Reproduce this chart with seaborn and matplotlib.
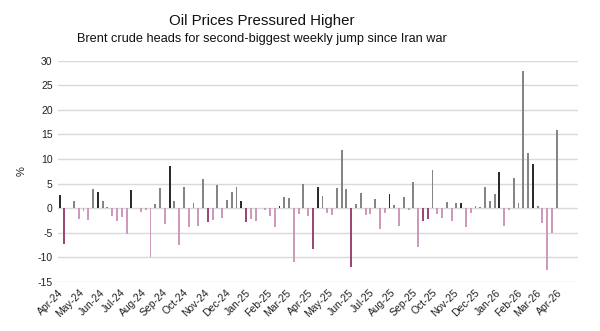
import matplotlib
matplotlib.use("Agg")
import matplotlib.pyplot as plt
import seaborn as sns
import pandas as pd
import numpy as np

# Weekly Brent crude % change, week ending dates
start_date = "2024-04-03"
n_weeks = 105
weekly_change = [
    2.6, -7.3, 0.0, 1.4, -2.1, -0.6, -2.4, 3.9, 3.3, 1.4,
    0.3, -1.6, -2.7, -1.7, -5.2, 3.7, 0.0, -0.8, -0.3, -9.9,
    0.9, 4.1, -3.3, 8.6, 1.4, -7.5, 4.3, -3.8, 1.1, -3.7,
    5.9, -2.9, -2.3, 4.8, -2.0, 1.7, 3.3, 4.4, 1.4, -2.8,
    -2.1, -2.7, 0.0, -0.3, -1.6, -3.8, 0.5, 2.3, 2.0, -10.9,
    -1.2, 5.0, -1.5, -8.2, 4.4, 2.4, -1.0, -1.3, 4.1, 11.8,
    3.9, -11.9, 0.8, 3.1, -1.4, -1.2, 1.8, -4.3, -1.0, 2.9,
    0.6, -3.7, 2.3, -0.3, 5.3, -7.8, -2.7, -2.2, 7.7, -1.2,
    -2.0, 1.2, -2.7, 1.1, 1.1, -3.9, -0.9, 0.5, 0.3, 4.4,
    1.4, 2.8, 7.3, -3.6, -0.3, 6.1, 1.1, 27.9, 11.3, 8.9,
    0.4, -3.1, -12.6, -5.0, 15.9,
]
# weeks drawn in the darker shade
dark_weeks = [0, 1, 8, 15, 23, 31, 38, 39, 46, 53, 54, 61, 69, 76, 77, 84, 92, 99]

title = "Oil Prices Pressured Higher"
subtitle = "Brent crude heads for second-biggest weekly jump since Iran war"
y_label = "%"
y_ticks = [-15, -10, -5, 0, 5, 10, 15, 20, 25, 30]

dates = pd.date_range(start_date, periods=n_weeks, freq="7D")
df = pd.DataFrame({"date": dates, "value": weekly_change})
df["pos"] = np.arange(len(df))
df["dark"] = df["pos"].isin(dark_weeks)
df["group"] = np.where(df["value"] >= 0,
                       np.where(df["dark"], "up_dark", "up"),
                       np.where(df["dark"], "down_dark", "down"))
palette = {"up": "#858585", "up_dark": "#2b2b2b",
           "down": "#d690bf", "down_dark": "#a83a78"}

sns.set_theme(style="white")
plt.rcParams["font.family"] = ["Liberation Sans", "DejaVu Sans"]

fig = plt.figure(figsize=(6.0, 3.31), dpi=100)
ax = fig.add_axes([0.097, 0.148, 0.866, 0.669])

sns.barplot(data=df, x="pos", y="value", hue="group", palette=palette,
            dodge=False, width=0.4, legend=False, ax=ax, order=list(df["pos"]),
            native_scale=True, linewidth=0)

ax.set_ylim(-15, 30)
ax.set_yticks(y_ticks)
ax.set_yticklabels([str(t) for t in y_ticks], fontsize=7.5, color="#222222")
ax.yaxis.grid(True, color="#d9d9d9", linewidth=1.0)
ax.set_axisbelow(True)
for s in ax.spines.values():
    s.set_visible(False)

# monthly ticks
month_starts = pd.date_range("2024-04-01", "2026-04-01", freq="MS")
tick_pos = [(m - dates[0]).days / 7.0 for m in month_starts]
ax.set_xticks(tick_pos)
ax.set_xticklabels([m.strftime("%b-%y") for m in month_starts], rotation=45,
                   ha="right", rotation_mode="anchor", fontsize=7.5, color="#222222")
ax.tick_params(axis="both", length=0, pad=4)
ax.set_xlim(-0.3, 108.4)
ax.set_xlabel("")
ax.set_ylabel(y_label, fontsize=8, color="#222222", labelpad=8)

fig.text(0.437, 0.925, title, ha="center", va="baseline", fontsize=10.8, color="#111111")
fig.text(0.437, 0.872, subtitle, ha="center", va="baseline", fontsize=9.2, color="#111111")

fig.savefig("out.png", dpi=100)
